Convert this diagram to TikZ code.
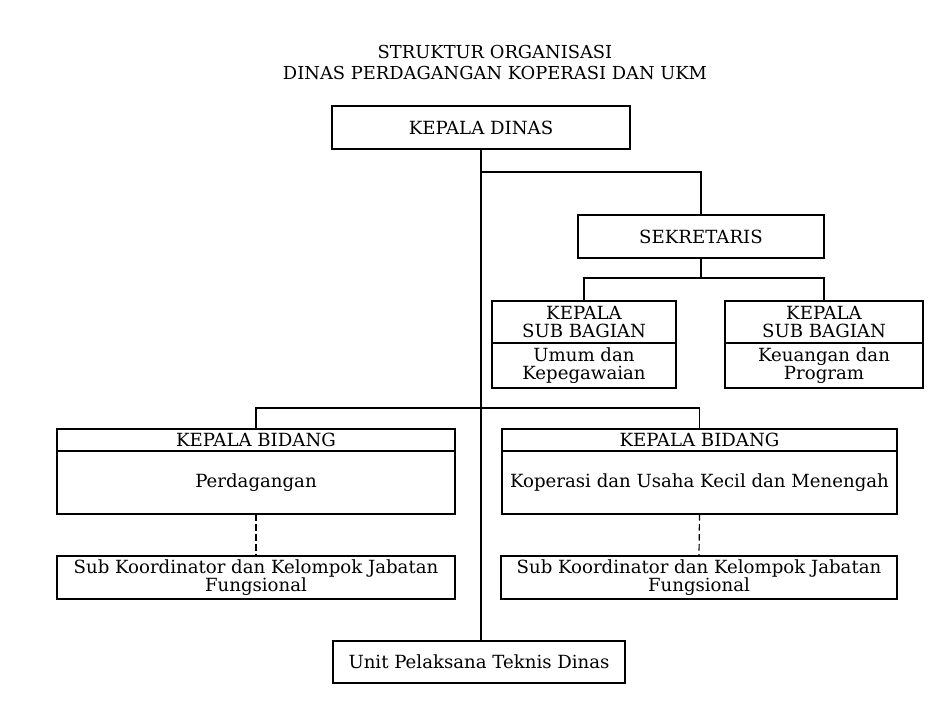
\documentclass[tikz,border=0pt]{standalone}
\usepackage{fontspec}
\setmainfont{DejaVu Serif}
\usetikzlibrary{positioning}

\begin{document}
\begin{tikzpicture}[x=0.75pt,y=-0.75pt,
  kotak/.style={draw,line width=0.9pt,outer sep=0pt,inner sep=1pt,align=center,
    font=\fontsize{13.6}{13.5}\selectfont},
  judul/.style={align=center,font=\fontsize{13.4}{15.75}\selectfont},
  garis/.style={line width=0.9pt},
  putus/.style={line width=0.9pt,dash pattern=on 5pt off 2.5pt}]
\useasboundingbox (0,0) rectangle (952,704);

\node[judul] (judul) at (495,62) {STRUKTUR ORGANISASI\\DINAS PERDAGANGAN KOPERASI DAN UKM};

\node[kotak,minimum width=223.5pt,minimum height=32.25pt] (kadis) at (481,127.5) {KEPALA DINAS};
\node[kotak,minimum width=184.5pt,minimum height=32.25pt] (sekretaris) at (701,236.5) {SEKRETARIS};

\node[kotak,minimum width=138pt,minimum height=31.5pt] (umumH) at (584,322) {KEPALA\\SUB BAGIAN};
\node[kotak,minimum width=138pt,minimum height=33.75pt,below=0pt of umumH] (umumB) {Umum dan\\Kepegawaian};
\node[kotak,minimum width=148.5pt,minimum height=31.5pt] (uangH) at (824,322) {KEPALA\\SUB BAGIAN};
\node[kotak,minimum width=148.5pt,minimum height=33.75pt,below=0pt of uangH] (uangB) {Keuangan dan\\Program};

\node[kotak,minimum width=298.5pt,minimum height=16.5pt] (dagH) at (256,440) {KEPALA BIDANG};
\node[kotak,minimum width=298.5pt,minimum height=47.25pt,below=0pt of dagH] (dagB) {Perdagangan};
\node[kotak,minimum width=296.25pt,minimum height=16.5pt] (ukmH) at (699.5,440) {KEPALA BIDANG};
\node[kotak,minimum width=296.25pt,minimum height=47.25pt,below=0pt of ukmH] (ukmB) {Koperasi dan Usaha Kecil dan Menengah};

\node[kotak,minimum width=298.5pt,minimum height=32.25pt] (dagJF) at (256,577.5) {Sub Koordinator dan Kelompok Jabatan\\Fungsional};
\node[kotak,minimum width=297pt,minimum height=32.25pt] (ukmJF) at (699,577.5) {Sub Koordinator dan Kelompok Jabatan\\Fungsional};

\node[kotak,minimum width=219pt,minimum height=31.5pt] (upt) at (479,662) {Unit Pelaksana Teknis Dinas};

\coordinate (c1) at (481,172);
\coordinate (c2) at (701,278);
\coordinate (c3) at (481,408);

\draw[garis] (kadis.south) -- (kadis.south |- upt.north);
\draw[garis] (c1) -| (sekretaris.north);
\draw[garis] (sekretaris.south) -- (c2);
\draw[garis] (umumH.north) |- (c2) -| (uangH.north);
\draw[garis] (dagH.north) |- (c3) -| (ukmH.north);
\draw[putus] (dagB.south) -- (dagJF.north);
\draw[putus] (ukmB.south) -- (ukmJF.north);
\end{tikzpicture}
\end{document}
